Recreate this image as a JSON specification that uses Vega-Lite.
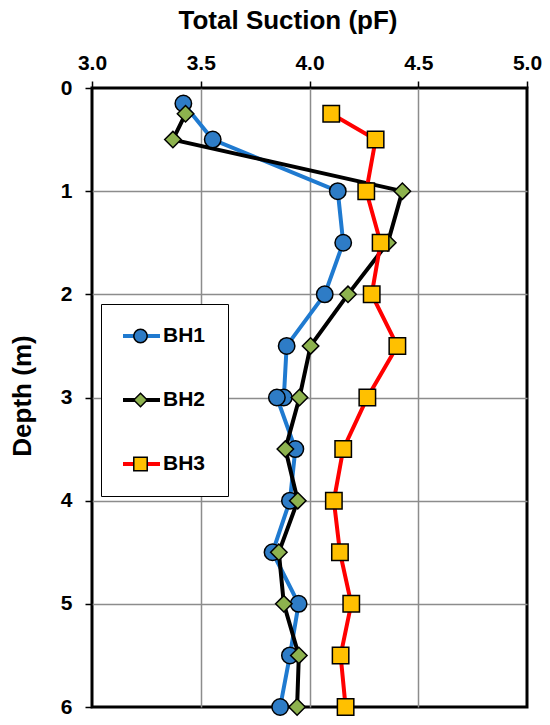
{
  "$schema": "https://vega.github.io/schema/vega-lite/v6.json",
  "width": 435,
  "height": 619,
  "autosize": "none",
  "padding": {"left": 92, "top": 88, "right": 23, "bottom": 18},
  "background": "white",
  "config": {
    "view": {"stroke": "black", "strokeWidth": 3},
    "font": "Liberation Sans"
  },
  "data": {
    "values": [
      {"bh": "BH1", "n": 1, "depth": 0.15, "suction": 3.42},
      {"bh": "BH1", "n": 2, "depth": 0.5, "suction": 3.555},
      {"bh": "BH1", "n": 3, "depth": 1.0, "suction": 4.13},
      {"bh": "BH1", "n": 4, "depth": 1.5, "suction": 4.155},
      {"bh": "BH1", "n": 5, "depth": 2.0, "suction": 4.07},
      {"bh": "BH1", "n": 6, "depth": 2.5, "suction": 3.895},
      {"bh": "BH1", "n": 7, "depth": 3.0, "suction": 3.882},
      {"bh": "BH1", "n": 8, "depth": 3.0, "suction": 3.85},
      {"bh": "BH1", "n": 9, "depth": 3.5, "suction": 3.935},
      {"bh": "BH1", "n": 10, "depth": 4.0, "suction": 3.91},
      {"bh": "BH1", "n": 11, "depth": 4.5, "suction": 3.83},
      {"bh": "BH1", "n": 12, "depth": 5.0, "suction": 3.95},
      {"bh": "BH1", "n": 13, "depth": 5.5, "suction": 3.91},
      {"bh": "BH1", "n": 14, "depth": 6.0, "suction": 3.865},
      {"bh": "BH2", "n": 1, "depth": 0.25, "suction": 3.43},
      {"bh": "BH2", "n": 2, "depth": 0.5, "suction": 3.372},
      {"bh": "BH2", "n": 3, "depth": 1.0, "suction": 4.427},
      {"bh": "BH2", "n": 4, "depth": 1.5, "suction": 4.36},
      {"bh": "BH2", "n": 5, "depth": 2.0, "suction": 4.177},
      {"bh": "BH2", "n": 6, "depth": 2.5, "suction": 4.005},
      {"bh": "BH2", "n": 7, "depth": 3.0, "suction": 3.954},
      {"bh": "BH2", "n": 8, "depth": 3.5, "suction": 3.889},
      {"bh": "BH2", "n": 9, "depth": 4.0, "suction": 3.946},
      {"bh": "BH2", "n": 10, "depth": 4.5, "suction": 3.859},
      {"bh": "BH2", "n": 11, "depth": 5.0, "suction": 3.882},
      {"bh": "BH2", "n": 12, "depth": 5.5, "suction": 3.951},
      {"bh": "BH2", "n": 13, "depth": 6.0, "suction": 3.943},
      {"bh": "BH3", "n": 1, "depth": 0.25, "suction": 4.1},
      {"bh": "BH3", "n": 2, "depth": 0.5, "suction": 4.304},
      {"bh": "BH3", "n": 3, "depth": 1.0, "suction": 4.261},
      {"bh": "BH3", "n": 4, "depth": 1.5, "suction": 4.327},
      {"bh": "BH3", "n": 5, "depth": 2.0, "suction": 4.286},
      {"bh": "BH3", "n": 6, "depth": 2.5, "suction": 4.404},
      {"bh": "BH3", "n": 7, "depth": 3.0, "suction": 4.266},
      {"bh": "BH3", "n": 8, "depth": 3.5, "suction": 4.155},
      {"bh": "BH3", "n": 9, "depth": 4.0, "suction": 4.112},
      {"bh": "BH3", "n": 10, "depth": 4.5, "suction": 4.14},
      {"bh": "BH3", "n": 11, "depth": 5.0, "suction": 4.192},
      {"bh": "BH3", "n": 12, "depth": 5.5, "suction": 4.143},
      {"bh": "BH3", "n": 13, "depth": 6.0, "suction": 4.166}
    ]
  },
  "encoding": {
    "x": {
      "field": "suction",
      "type": "quantitative",
      "scale": {"domain": [3, 5], "nice": false, "zero": false},
      "axis": {
        "orient": "top",
        "values": [3, 3.5, 4, 4.5, 5],
        "format": ".1f",
        "title": "Total Suction (pF)",
        "titleFont": "Liberation Sans",
        "titleFontSize": 26,
        "titleFontWeight": "bold",
        "titleColor": "black",
        "titleAlign": "center",
        "titleBaseline": "alphabetic",
        "titleX": 195.5,
        "titleY": -59.7,
        "labelFont": "Liberation Sans",
        "labelFontSize": 21,
        "labelFontWeight": "bold",
        "labelColor": "black",
        "labelPadding": 8,
        "labelFlush": false,
        "domain": false,
        "ticks": true,
        "tickSize": 7,
        "tickWidth": 1.5,
        "tickColor": "black",
        "grid": true,
        "gridWidth": 1.5,
        "gridColor": {"condition": {"test": "datum.value === 3 || datum.value === 5", "value": "transparent"}, "value": "#8c8c8c"}
      }
    },
    "y": {
      "field": "depth",
      "type": "quantitative",
      "scale": {"domain": [0, 6], "reverse": true, "nice": false, "zero": false},
      "axis": {
        "orient": "left",
        "values": [0, 1, 2, 3, 4, 5, 6],
        "title": "Depth (m)",
        "titleFont": "Liberation Sans",
        "titleFontSize": 26,
        "titleFontWeight": "bold",
        "titleColor": "black",
        "titleAngle": -90,
        "titleAlign": "center",
        "titleBaseline": "alphabetic",
        "titleX": -62,
        "titleY": 307.5,
        "labelFont": "Liberation Sans",
        "labelFontSize": 21,
        "labelFontWeight": "bold",
        "labelColor": "black",
        "labelPadding": 13,
        "labelFlush": false,
        "domain": false,
        "ticks": true,
        "tickSize": 7,
        "tickWidth": 1.5,
        "tickColor": "black",
        "grid": true,
        "gridWidth": 1.5,
        "gridColor": {"condition": {"test": "datum.value === 0 || datum.value === 6", "value": "transparent"}, "value": "#8c8c8c"}
      }
    }
  },
  "layer": [
    {
      "mark": {"type": "line", "strokeWidth": 4, "clip": false},
      "encoding": {
        "order": {"field": "n", "type": "quantitative"},
        "color": {
          "field": "bh",
          "type": "nominal",
          "scale": {"domain": ["BH1", "BH2", "BH3"], "range": ["#1f7ad0", "#000000", "#ff0000"]},
          "legend": {
            "orient": "none",
            "legendX": 9,
            "legendY": 216,
            "padding": 22,
            "title": null,
            "strokeColor": "black",
            "fillColor": "white",
            "symbolType": "stroke",
            "symbolSize": 1681,
            "symbolStrokeWidth": 4,
            "symbolOffset": -6,
            "clipHeight": 20,
            "rowPadding": 43,
            "labelFont": "Liberation Sans",
            "labelFontSize": 21,
            "labelFontWeight": "bold",
            "labelColor": "black",
            "labelOffset": 1,
            "zindex": 0,
            "encode": {"legend": {"strokeWidth": {"value": 1.5}}}
          }
        }
      }
    },
    {
      "mark": {"type": "point", "filled": true, "stroke": "black", "strokeWidth": 1.5, "size": 270, "opacity": 1, "clip": false},
      "encoding": {
        "fill": {
          "field": "bh",
          "type": "nominal",
          "scale": {"range": ["#2e7cc6", "#8db24e", "#ffc000"]},
          "legend": {
            "orient": "none",
            "legendX": 38,
            "legendY": 238,
            "padding": 0,
            "title": null,
            "symbolSize": 180,
            "symbolStrokeWidth": 1.5,
            "clipHeight": 20,
            "rowPadding": 43,
            "labelExpr": "''",
            "labelFontSize": 21,
            "labelOffset": 0,
            "zindex": 1,
            "encode": {"symbols": {"stroke": {"value": "black"}, "strokeWidth": {"value": 1.5}, "opacity": {"value": 1}}}
          }
        },
        "shape": {
          "field": "bh",
          "type": "nominal",
          "scale": {"range": ["circle", "diamond", "square"]},
          "legend": {
            "orient": "none",
            "legendX": 38,
            "legendY": 238,
            "padding": 0,
            "title": null,
            "symbolSize": 180,
            "symbolStrokeWidth": 1.5,
            "clipHeight": 20,
            "rowPadding": 43,
            "labelExpr": "''",
            "labelFontSize": 21,
            "labelOffset": 0,
            "zindex": 1,
            "encode": {"symbols": {"stroke": {"value": "black"}, "strokeWidth": {"value": 1.5}, "opacity": {"value": 1}}}
          }
        }
      }
    }
  ]
}
